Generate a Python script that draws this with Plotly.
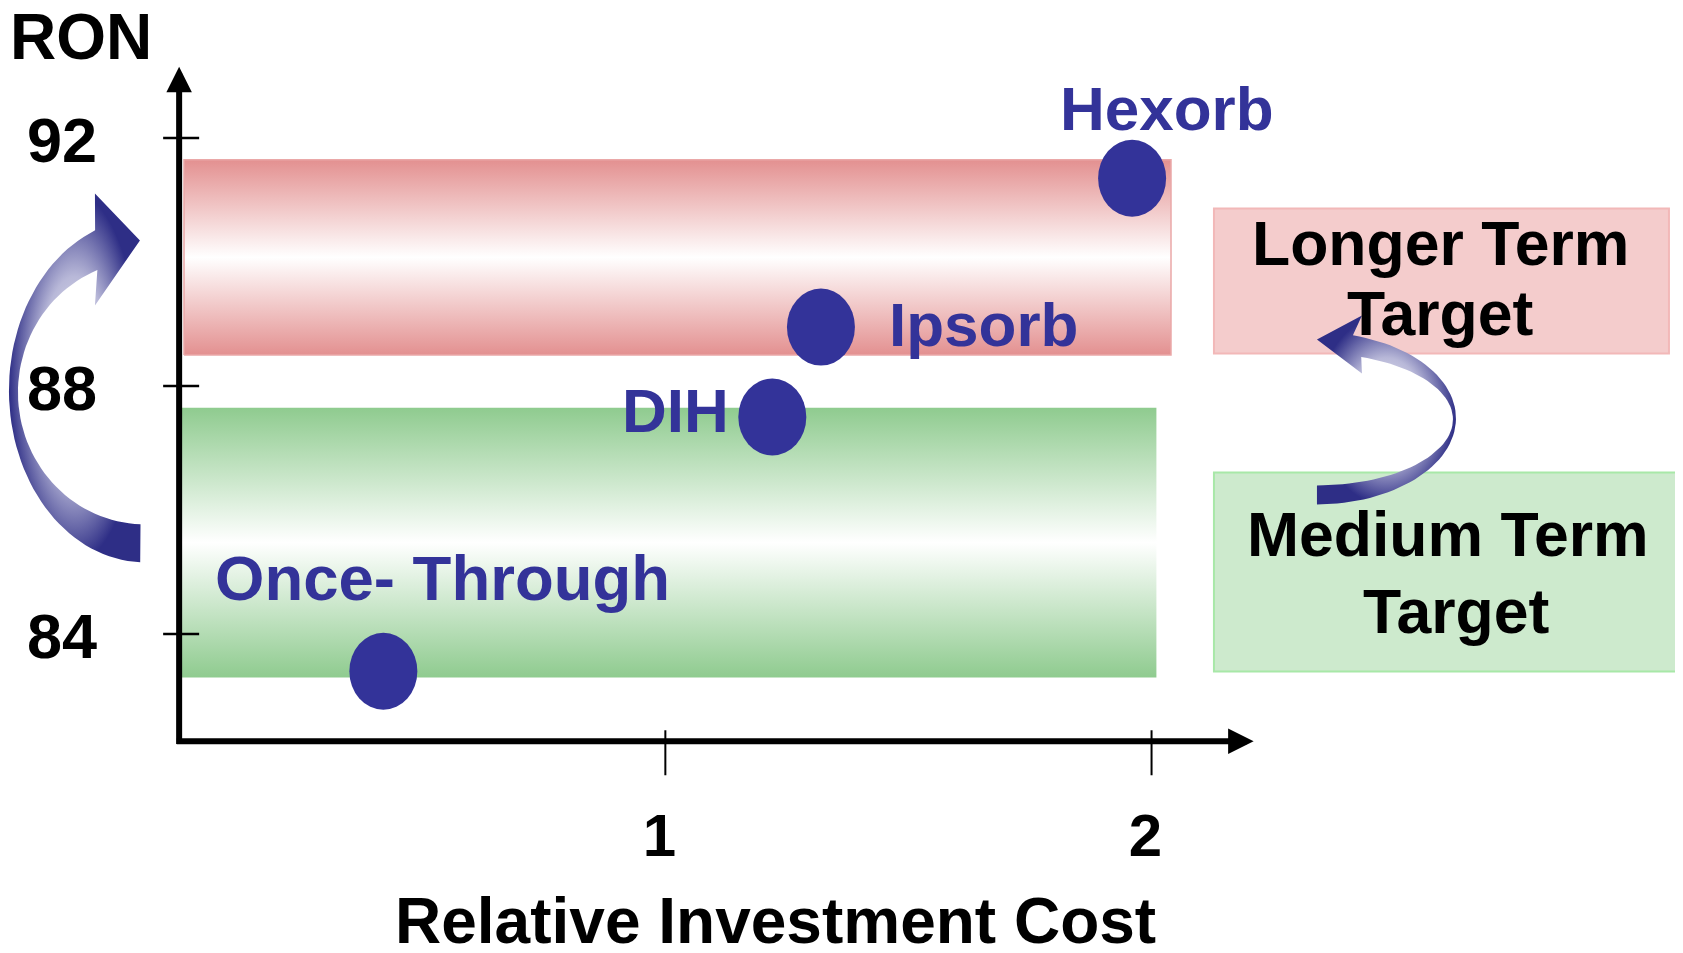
import numpy as np
import plotly.graph_objects as go

# ---------------- data ----------------
processes = ["Once- Through", "DIH", "Ipsorb", "Hexorb"]
relative_cost = [0.42, 1.22, 1.32, 1.96]
ron = [83.4, 87.5, 88.95, 91.35]

x_tick_vals = [1, 2]
x_tick_labels = ["1", "2"]
y_tick_vals = [84, 88, 92]
y_tick_labels = ["84", "88", "92"]

target_names = ["Medium Term Target", "Longer Term Target"]
target_cost_start = [0.0, 0.01]
target_cost_end = [2.01, 2.04]
target_ron_low = [83.3, 88.5]
target_ron_high = [87.65, 91.65]

x_title = "Relative Investment Cost"
y_title = "RON"

# ---------------- layout constants ----------------
OFF = 8                       # page body margin of the browser
W, H = 1683 - OFF, 953 - OFF
PX_PER_X = 486.2
X0_PX = 179.2 - OFF
PX_PER_Y = 62.0
Y88_PX = 385.6 - OFF
X_RANGE = [-0.352, 2.801]
Y_RANGE = [79.0, 94.0]
ML = X0_PX + X_RANGE[0] * PX_PER_X
MR = W - (X0_PX + X_RANGE[1] * PX_PER_X)
MT = Y88_PX - (Y_RANGE[1] - 88) * PX_PER_Y
MB = H - (Y88_PX + (88 - Y_RANGE[0]) * PX_PER_Y)
PW = W - ML - MR
PH = H - MT - MB

NAVY = "#333399"
FONT = "Liberation Sans, Arial, sans-serif"
DOT_HALF_W = 34 / PX_PER_X     # ellipse half width (data units)
DOT_HALF_H = 38.5 / PX_PER_Y   # ellipse half height (data units)


def px2data(X, Y):
    X = np.asarray(X, float) - OFF
    Y = np.asarray(Y, float) - OFF
    return (X - X0_PX) / PX_PER_X, 88 + (Y88_PX - Y) / PX_PER_Y


def px2paper(X, Y):
    return (X - OFF - ML) / PW, (MT + PH - (Y - OFF)) / PH


def arc(cx, cy, rx, ry, a0, a1, n=60):
    a = np.radians(np.linspace(a0, a1, n))
    return list(cx + rx * np.cos(a)), list(cy + ry * np.sin(a))


fig = go.Figure()

# ---------------- target bands ----------------
band_styles = [
    dict(c="#8fcb8f", lw=0, lc="rgba(0,0,0,0)"),
    dict(c="#e39090", lw=1.5, lc="#eaa8a8"),
]
for i, name in enumerate(target_names):
    x0, x1 = target_cost_start[i], target_cost_end[i]
    y0, y1 = target_ron_low[i], target_ron_high[i]
    st = band_styles[i]
    fig.add_trace(go.Scatter(
        x=[x0, x1, x1, x0, x0], y=[y0, y0, y1, y1, y0],
        mode="lines", fill="toself", name=name,
        line=dict(width=st["lw"], color=st["lc"]),
        fillgradient=dict(type="vertical",
                          colorscale=[[0, st["c"]], [0.5, "#ffffff"], [1, st["c"]]]),
        hoverinfo="skip", showlegend=False))

# ---------------- curved arrows (decoration) ----------------
def arrow_trace(xs, ys):
    dx, dy = px2data(xs, ys)
    return go.Scatter(
        x=list(dx) + [dx[0]], y=list(dy) + [dy[0]], mode="lines", fill="toself",
        line=dict(width=0, color="rgba(0,0,0,0)"),
        fillgradient=dict(type="radial",
                          colorscale=[[0, "#ffffff"], [0.55, "#b8b8d8"], [1, "#2e2e86"]]),
        hoverinfo="skip", showlegend=False)

# left arrow
ox, oy = arc(145, 390, 136, 172, 92, 248.5)
ix, iy = arc(145, 392, 127, 132, 248, 92)
lx = ox + [95, 140, 95] + ix
ly = oy + [193, 240, 305] + iy
fig.add_trace(arrow_trace(lx, ly))

# right arrow
ox, oy = arc(1317, 418, 139, 86, 90, -75)
ix, iy = arc(1317, 419, 136, 66, -71, 90)
rx = ox + [1362, 1317, 1362] + ix
ry = oy + [315, 339, 373] + iy
fig.add_trace(arrow_trace(rx, ry))

# ---------------- points (ellipses drawn on the data axes) ----------------
fig.add_trace(go.Scatter(
    x=relative_cost, y=ron, mode="markers", name="Process",
    marker=dict(size=60, color="rgba(51,51,153,0)"),
    text=processes, hoverinfo="text", showlegend=False))
for xv, yv in zip(relative_cost, ron):
    fig.add_shape(type="circle", xref="x", yref="y",
                  x0=xv - DOT_HALF_W, x1=xv + DOT_HALF_W,
                  y0=yv - DOT_HALF_H, y1=yv + DOT_HALF_H,
                  fillcolor=NAVY, line=dict(width=0))

label_style = {
    "Hexorb": dict(xanchor="center", xshift=35, yshift=70),
    "Ipsorb": dict(xanchor="left", xshift=66, yshift=3),
    "DIH": dict(xanchor="right", xshift=-41, yshift=7),
    "Once- Through": dict(xanchor="center", xshift=59, yshift=93),
}
label_size = {"Hexorb": 62, "Ipsorb": 62, "DIH": 62, "Once- Through": 63.5}
for p, xv, yv in zip(processes, relative_cost, ron):
    fig.add_annotation(x=xv, y=yv, text=p, showarrow=False, yanchor="middle",
                       font=dict(family=FONT, size=label_size[p], color=NAVY, weight="bold"),
                       **label_style[p])

# ---------------- axes (arrows + ticks) ----------------
x_axis_ron = 82.27
fig.add_annotation(x=2.21, y=x_axis_ron, ax=-0.008, ay=x_axis_ron, xref="x", yref="y",
                   axref="x", ayref="y", text="", showarrow=True, arrowhead=2,
                   arrowsize=0.85, arrowwidth=6, arrowcolor="black", standoff=0)
fig.add_annotation(x=0, y=93.15, ax=0, ay=82.2, xref="x", yref="y",
                   axref="x", ayref="y", text="", showarrow=True, arrowhead=2,
                   arrowsize=0.85, arrowwidth=6, arrowcolor="black", standoff=0)
for v in y_tick_vals:
    fig.add_shape(type="line", xref="x", yref="y", x0=-16 / PX_PER_X, x1=20 / PX_PER_X,
                  y0=v, y1=v, line=dict(color="black", width=2.5))
for v in x_tick_vals:
    fig.add_shape(type="line", xref="x", yref="y", x0=v, x1=v,
                  y0=x_axis_ron + 11 / PX_PER_Y, y1=x_axis_ron - 34 / PX_PER_Y,
                  line=dict(color="black", width=2))

# ---------------- target boxes on the right ----------------
bx0, by0 = px2paper(1214, 208)
bx1, by1 = px2paper(1669, 353)
fig.add_shape(type="rect", xref="paper", yref="paper", x0=bx0, x1=bx1, y0=by1, y1=by0,
              fillcolor="#f4cccc", line=dict(color="#f2b8b8", width=2), layer="below")
gx0, gy0 = px2paper(1214, 472)
gx1, gy1 = px2paper(1690, 671)
fig.add_shape(type="rect", xref="paper", yref="paper", x0=gx0, x1=gx1, y0=gy1, y1=gy0,
              fillcolor="#cdeacd", line=dict(color="#a8e8a8", width=2), layer="below")

box_texts = [("Longer Term", 1441, 243), ("Target", 1441, 313),
             ("Medium Term", 1448, 534), ("Target", 1457, 611)]
for t, X, Y in box_texts:
    px_, py_ = px2paper(X, Y)
    fig.add_annotation(x=px_, y=py_, xref="paper", yref="paper", text=t, showarrow=False,
                       xanchor="center", yanchor="middle",
                       font=dict(family=FONT, size=62.5, color="black", weight="bold"))

# axis titles
rx_, ry_ = px2paper(81.5, 37)
fig.add_annotation(x=rx_, y=ry_, xref="paper", yref="paper", text=y_title, showarrow=False,
                   xanchor="center", yanchor="middle",
                   font=dict(family=FONT, size=64, color="black", weight="bold"))
tx_, ty_ = px2paper(775.5, 921)
fig.add_annotation(x=tx_, y=ty_, xref="paper", yref="paper", text=x_title, showarrow=False,
                   xanchor="center", yanchor="middle",
                   font=dict(family=FONT, size=64, color="black", weight="bold"))

pos_y_axis = (0 - X_RANGE[0]) / (X_RANGE[1] - X_RANGE[0])
pos_x_axis = (x_axis_ron - Y_RANGE[0]) / (Y_RANGE[1] - Y_RANGE[0])

fig.update_layout(
    width=W, height=H,
    margin=dict(l=ML, r=MR, t=MT, b=MB, autoexpand=False),
    paper_bgcolor="white", plot_bgcolor="rgba(0,0,0,0)",
    showlegend=False,
    xaxis=dict(range=X_RANGE, anchor="free", position=pos_x_axis,
               tickvals=x_tick_vals, ticktext=x_tick_labels, ticks="",
               showgrid=False, zeroline=False, showline=False,
               ticklabelstandoff=54, ticklabelshift=-6,
               tickfont=dict(family=FONT, size=60, color="black", weight="bold")),
    yaxis=dict(range=Y_RANGE, anchor="free", position=pos_y_axis,
               tickvals=y_tick_vals, ticktext=y_tick_labels, ticks="",
               showgrid=False, zeroline=False, showline=False,
               ticklabelstandoff=82, ticklabelshift=2,
               tickfont=dict(family=FONT, size=63, color="black", weight="bold")),
)

fig.write_html("out.html")
